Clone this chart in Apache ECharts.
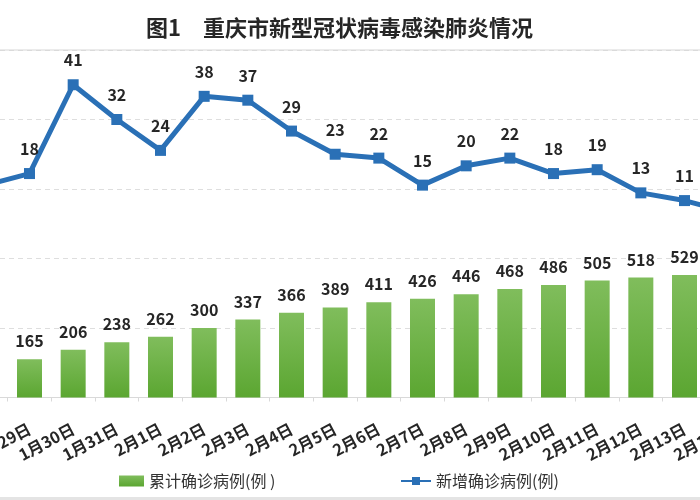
<html>
<head>
<meta charset="utf-8">
<title>重庆市新型冠状病毒感染肺炎情况</title>
<script src="https://cdn.jsdelivr.net/npm/echarts@6/dist/echarts.min.js"></script>
<style>
  html, body { margin: 0; padding: 0; background: #fff; overflow: hidden; }
  #wrap { position: relative; width: 700px; height: 500px; overflow: hidden; }
  /* the picture is a crop of a wider chart, so the canvas hangs over both edges */
  #main { position: absolute; left: -40px; top: 0; width: 800px; height: 500px; }
</style>
<script type="text/javascript">

  var days = ['1月28日', '1月29日', '1月30日', '1月31日', '2月1日', '2月2日', '2月3日',
              '2月4日', '2月5日', '2月6日', '2月7日', '2月8日', '2月9日', '2月10日',
              '2月11日', '2月12日', '2月13日', '2月14日'];
  var totalCases = [147, 165, 206, 238, 262, 300, 337, 366, 389, 411, 426, 446, 468, 486,
                    505, 518, 529, 537];
  var newCases = [15, 18, 41, 32, 24, 38, 37, 29, 23, 22, 15, 20, 22, 18, 19, 13, 11, 8];

  var titleText = '图1　重庆市新型冠状病毒感染肺炎情况';
  var barName = '累计确诊病例(例 )';
  var lineName = '新增确诊病例(例)';

  const FONT = '"Noto Sans CJK SC", "Noto Sans", sans-serif';
  const OX = 40; // canvas x offset vs the visible frame

  function init() {
    var myChart = echarts.init(document.getElementById('main'), null, {renderer: 'canvas'});

    var option = {
      animation: false,
      backgroundColor: '#fff',
      title: {
        text: titleText,
        left: 141 + OX,
        top: 12,
        textStyle: {fontFamily: FONT, fontSize: 22, fontWeight: 'bold', color: '#262626'}
      },
      legend: [
        { data: [barName], left: 114 + OX, top: 467, icon: 'rect',
          itemWidth: 25, itemHeight: 11, itemGap: 6,
          textStyle: {fontFamily: FONT, fontSize: 16, color: '#333', lineHeight: 18} },
        { data: [lineName], left: 395 + OX, top: 467,
          itemWidth: 30, itemHeight: 10, itemGap: 6,
          textStyle: {fontFamily: FONT, fontSize: 16, color: '#333', lineHeight: 18} }
      ],
      grid: {left: 4, top: 50, width: 786, height: 347.5, containLabel: false, outerBoundsMode: 'none'},
      xAxis: {
        type: 'category',
        data: days,
        boundaryGap: true,
        axisLine: {lineStyle: {color: '#d9d9d9'}},
        axisTick: {show: true, length: 4, lineStyle: {color: '#d9d9d9'}},
        axisLabel: {
          interval: 0, rotate: 28, margin: 30,
          fontFamily: FONT, fontSize: 16, fontWeight: 'bold', color: '#262626'
        }
      },
      yAxis: [
        { type: 'value', min: 0, max: 1500, interval: 300, show: true,
          axisLine: {show: false}, axisTick: {show: false}, axisLabel: {show: false},
          splitLine: {lineStyle: {color: '#dedede', type: [5, 4]}} },
        { type: 'value', min: -40, max: 50, show: false, splitLine: {show: false} }
      ],
      series: [
        {
          name: barName, type: 'bar', data: totalCases, yAxisIndex: 0, barWidth: 25,
          itemStyle: {
            color: {type: 'linear', x: 0, y: 0, x2: 0, y2: 1,
                    colorStops: [{offset: 0, color: '#80bd5c'}, {offset: 1, color: '#5ba631'}]}
          },
          label: {show: true, position: 'top', distance: 10,
                  fontFamily: FONT, fontSize: 16, fontWeight: 'bold', color: '#262626'}
        },
        {
          name: lineName, type: 'line', data: newCases, yAxisIndex: 1,
          symbol: 'rect', symbolSize: 11,
          lineStyle: {color: '#2a70b6', width: 5},
          itemStyle: {color: '#2a70b6'},
          label: {show: true, position: 'top', distance: 11,
                  fontFamily: FONT, fontSize: 16, fontWeight: 'bold', color: '#262626'}
        }
      ],
      graphic: [
        {type: 'line', shape: {x1: OX, y1: 50, x2: OX + 700, y2: 50},
         style: {stroke: '#d6d6d6', lineWidth: 1}, z: 10},
        {type: 'rect', shape: {x: OX, y: 497, width: 700, height: 3},
         style: {fill: '#e4e4e4'}, z: 10}
      ]
    };

    myChart.setOption(option);
  }
</script>
</head>
<body onload="init();">
  <div id="wrap"><div id="main"></div></div>
</body>
</html>
